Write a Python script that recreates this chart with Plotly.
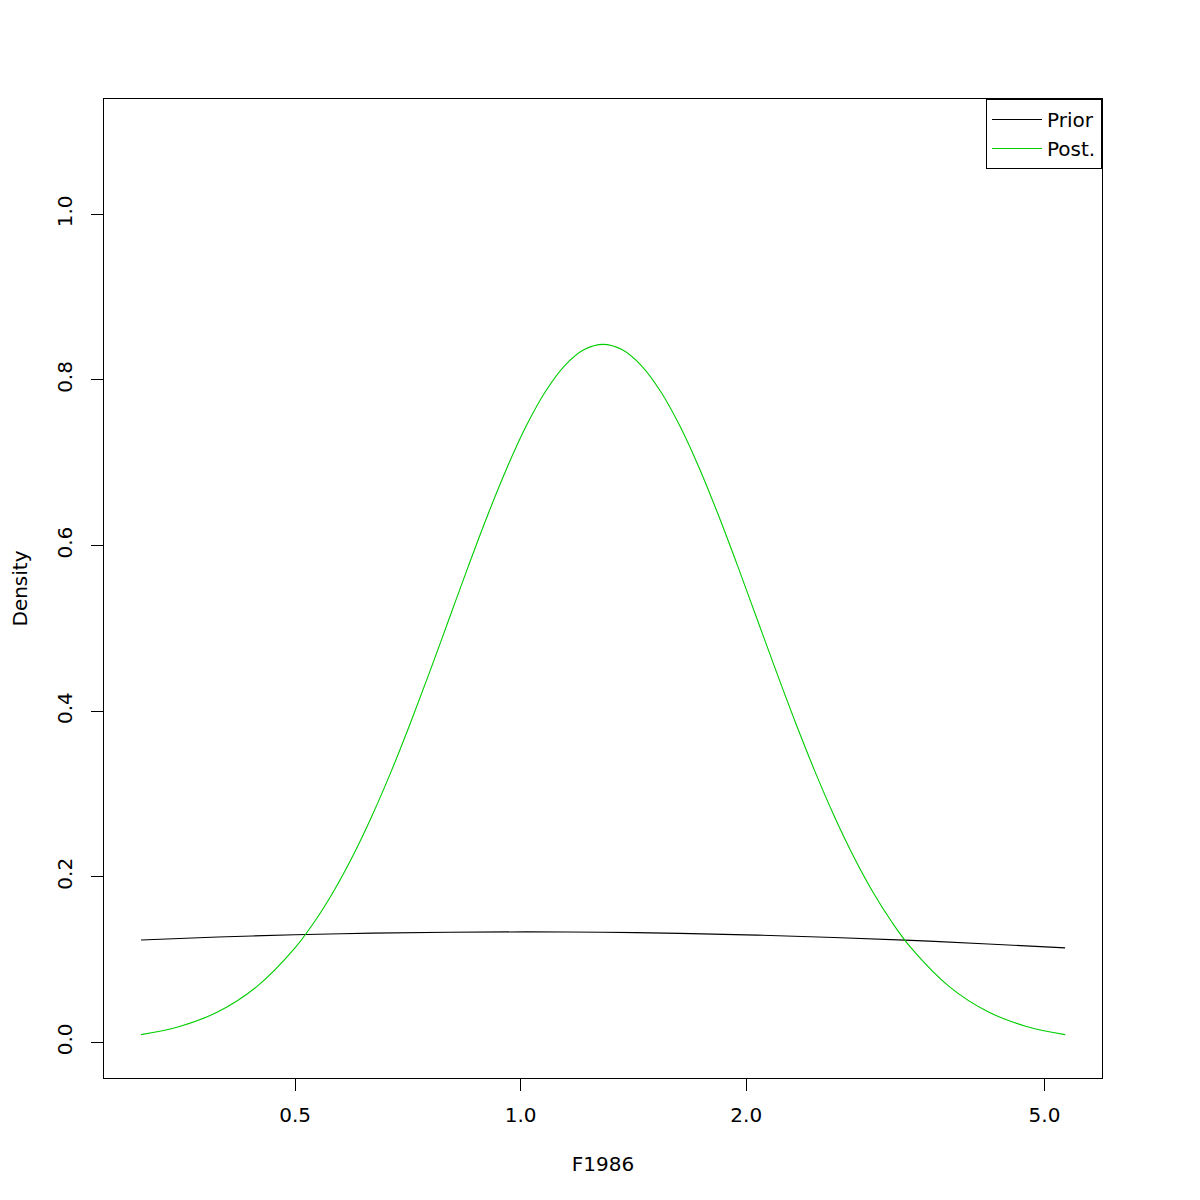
import plotly.graph_objects as go

# Values
post_x = [0.3115, 0.3506, 0.3946, 0.4441, 0.4999, 0.5304, 0.5627, 0.5970, 0.6334,
          0.6720, 0.7129, 0.7564, 0.8024, 0.8513, 0.9032, 0.9583, 1.0166, 1.0786,
          1.1443, 1.2140, 1.2880, 1.3665, 1.4498, 1.5381, 1.6318, 1.7313, 1.8367,
          1.9487, 2.0674, 2.1934, 2.3270, 2.4688, 2.6193, 2.7789, 2.9482, 3.1279,
          3.3185, 3.7352, 4.2043, 4.7323, 5.3265]
post_y = [0.0094, 0.0192, 0.0370, 0.0671, 0.1141, 0.1454, 0.1823, 0.2251, 0.2737,
          0.3276, 0.3860, 0.4477, 0.5113, 0.5749, 0.6363, 0.6934, 0.7440, 0.7858,
          0.8171, 0.8364, 0.8430, 0.8364, 0.8171, 0.7858, 0.7440, 0.6934, 0.6363,
          0.5749, 0.5113, 0.4477, 0.3860, 0.3276, 0.2737, 0.2251, 0.1823, 0.1454,
          0.1141, 0.0671, 0.0370, 0.0192, 0.0094]

prior_x = [0.3115, 0.3946, 0.4999, 0.6334, 0.8024, 1.0166, 1.2880, 1.6318,
           2.0674, 2.6193, 3.3185, 4.2043, 5.3265]
prior_y = [0.1237, 0.1272, 0.1300, 0.1319, 0.1331, 0.1335, 0.1330, 0.1317,
           0.1296, 0.1267, 0.1232, 0.1189, 0.1141]

x_ticks = [0.5, 1.0, 2.0, 5.0]
x_ticklabels = ["0.5", "1.0", "2.0", "5.0"]
y_ticks = [0.0, 0.2, 0.4, 0.6, 0.8, 1.0]
y_ticklabels = ["0.0", "0.2", "0.4", "0.6", "0.8", "1.0"]

FONT = "DejaVu Sans"
FS = 20

fig = go.Figure()
fig.add_trace(go.Scatter(x=prior_x, y=prior_y, mode="lines", name="Prior",
                         line=dict(color="black", width=1.1, shape="spline")))
fig.add_trace(go.Scatter(x=post_x, y=post_y, mode="lines", name="Post.",
                         line=dict(color="#00CD00", width=1.1, shape="spline")))

axis_common = dict(showline=True, linecolor="black", linewidth=1, mirror=True,
                   ticks="outside", ticklen=12, tickcolor="black", tickwidth=1,
                   showgrid=False, zeroline=False,
                   tickfont=dict(family=FONT, size=FS, color="black"),
                   title_font=dict(family=FONT, size=FS, color="black"))

fig.update_xaxes(type="log", range=[-0.556, 0.7757], tickvals=x_ticks,
                 ticktext=x_ticklabels, title_text="F1986", title_standoff=30,
                 ticklabelstandoff=7, **axis_common)
fig.update_yaxes(range=[-0.043, 1.1393], tickvals=y_ticks, ticktext=y_ticklabels,
                 tickangle=-90, title_text="Density", title_standoff=24,
                 ticklabelstandoff=11, **axis_common)

fig.update_layout(
    width=1200, height=1200,
    margin=dict(l=96, r=106, t=91, b=130, autoexpand=False),
    plot_bgcolor="white", paper_bgcolor="white",
    font=dict(family=FONT, size=FS, color="black"),
    legend=dict(x=1, y=1, xanchor="right", yanchor="top",
                bordercolor="black", borderwidth=1, bgcolor="white",
                font=dict(family=FONT, size=FS, color="black"),
                itemwidth=50, tracegroupgap=0),
    showlegend=True,
)

fig.write_html("out.html")
